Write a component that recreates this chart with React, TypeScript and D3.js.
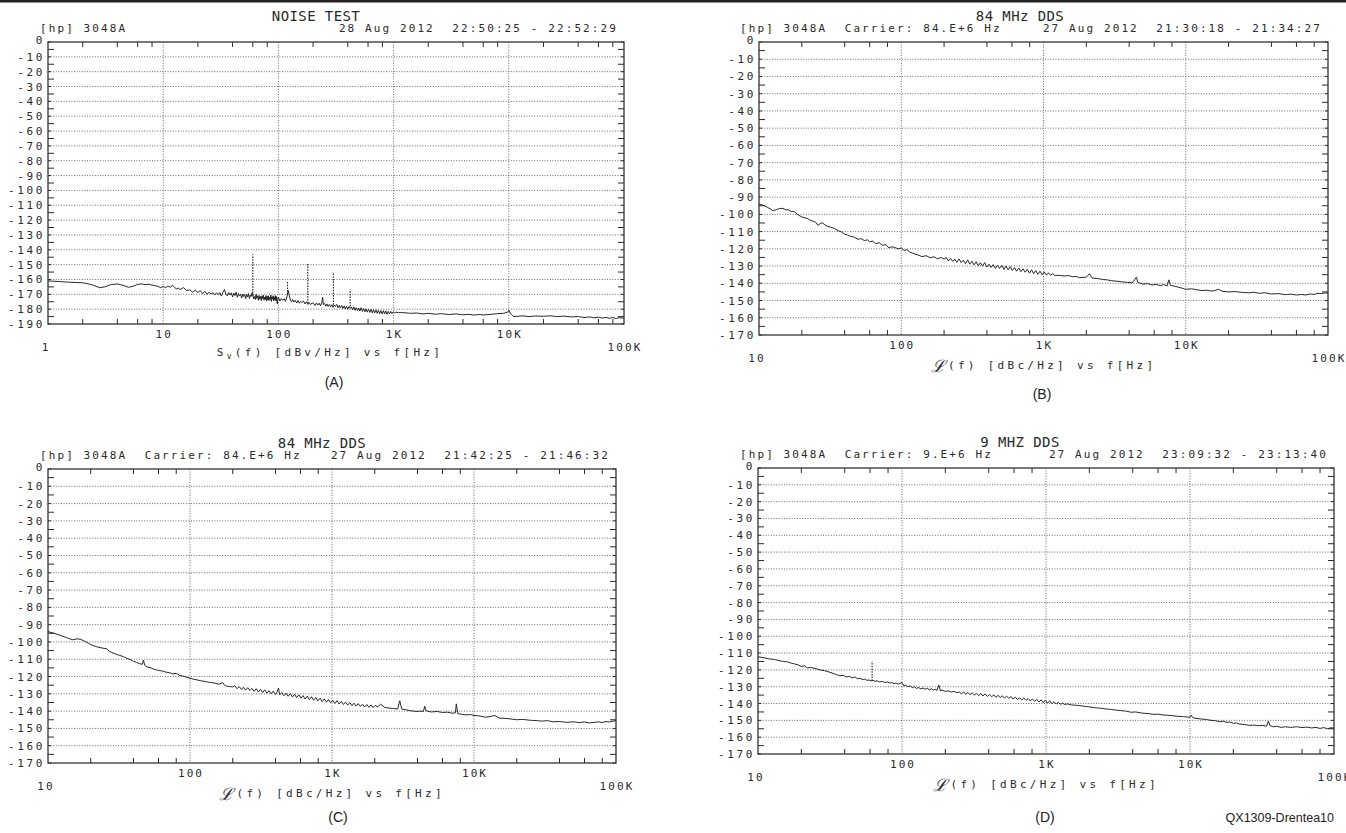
import React from 'react';
import * as d3 from 'd3';

type Pt = [number, number];
type Spur = [number, number, number];

// ---------- texts ----------
const titles = ['NOISE TEST', '84 MHz DDS', '84 MHz DDS', '9 MHZ DDS'];
const instrLeft = [
  '[hp] 3048A',
  '[hp] 3048A  Carrier: 84.E+6 Hz',
  '[hp] 3048A  Carrier: 84.E+6 Hz',
  '[hp] 3048A  Carrier: 9.E+6 Hz',
];
const instrRight = [
  '28 Aug 2012  22:50:25 - 22:52:29',
  '27 Aug 2012  21:30:18 - 21:34:27',
  '27 Aug 2012  21:42:25 - 21:46:32',
  '27 Aug 2012  23:09:32 - 23:13:40',
];
const panelLetters = ['(A)', '(B)', '(C)', '(D)'];
const startLabels = ['1', '10', '10', '10'];
const stopLabel = '100K';
const footer = 'QX1309-Drentea10';

// ---------- axes ----------
const freqStart = [1, 10, 10, 10];
const freqStop = [100000, 100000, 100000, 100000];
const dbBottom = [-190, -170, -170, -170];
const decadeValues = [10, 100, 1000, 10000];
const decadeLabels = ['10', '100', '1K', '10K'];
const minorMultipliers = [2, 4, 6, 8];

// ---------- data: panel A  Sv(f) dBV/Hz ----------
const seriesA: Pt[] = [
  [1,-161],[1.2,-161.3],[1.5,-161.8],[2,-162.2],[2.4,-163.5],[2.8,-165.5],[3.1,-165],[3.5,-163.5],[4,-163],[4.5,-164],
  [5,-165.3],[5.5,-164.5],[6,-163.3],[6.5,-163],[7,-163.5],[7.5,-163.2],[8,-163.8],[8.5,-164.2],[9,-164.6],[9.5,-165.5],
  [10,-164.8],[10.5,-165.5],[11,-164.5],[11.5,-165.2],[12,-164],[12.5,-165],[13,-166.5],[13.5,-165.8],[14,-166.8],[15,-165.5],
  [16,-167.5],[17,-167],[18,-168.5],[19,-167.2],[20,-168.8],[21,-167.5],[22,-169.5],[23,-168],[24,-170],[25,-168.5],
  [26,-169.8],[27,-168.8],[28,-170.5],[29,-169],
  [30,-170.2],[31,-168.8],[32,-171.2],[33,-168.5],[34,-166.8],[35,-169.8],[36,-171],[37,-168.8],[38,-170.5],[39,-169],
  [40,-171.8],[41,-169.2],[42,-170.8],[43,-168.5],[44,-172],[45,-169.5],[46,-171.2],[47,-170],[48,-172.5],[49,-169.8],
  [50,-171.5],[51,-170.2],[52,-173],[53,-170],[54,-171.8],[55,-169.5],[56,-172.8],[57,-170.5],[58,-171.5],[59,-169],
  [60,-170.5],[61,-173],[62,-171.5],[63,-173.5],[64,-170],[65,-172.8],[66,-171],[67,-174],[68,-170.8],[69,-173.2],
  [70,-171.5],[71,-174.2],[72,-171],[73,-173],[74,-170.5],[75,-174],[76,-171.8],[77,-173.5],[78,-170.8],[79,-174.5],
  [80,-171.2],[81,-173.8],[82,-171],[83,-174.2],[84,-172],[85,-173.5],[86,-170.5],[87,-174.8],[88,-171.8],[89,-173.2],
  [90,-171],[91,-174.5],[92,-172],[93,-173.8],[94,-170.8],[95,-174.2],[96,-171.5],[97,-175],[98,-176.5],[99,-172.5],
  [100,-171.8],[103,-174.5],[106,-172.8],[109,-174],[112,-173],[115,-174.8],[118,-172.5],[120,-169.5],[122,-167.5],[124,-170.5],
  [127,-173.8],[130,-175],[133,-173.5],[136,-175.2],[140,-174],[144,-175.8],[148,-174.2],[152,-176],[156,-174.8],[160,-175.5],
  [165,-174.5],[170,-176.5],[175,-175],[180,-176.8],[185,-175.5],[190,-177],[196,-175.8],[202,-176.2],[208,-177.5],[214,-175.8],
  [220,-177.2],[226,-176],[232,-177.8],[238,-175.5],[242,-172],[246,-177],[252,-176.2],[258,-178],[264,-176.5],[270,-178.2],
  [277,-176.8],[284,-178.5],[291,-177],[298,-178.8],[305,-177.2],[313,-178.2],[321,-176.8],[329,-179],[337,-177.5],[345,-179.2],
  [354,-177.5],[363,-179.5],[372,-177.8],[381,-179.8],[390,-178],[400,-180],[410,-178.2],[420,-179.5],[430,-178.5],[441,-180.5],
  [452,-178.5],[463,-180.8],[474,-179],[486,-181],[498,-179.2],[510,-181.2],[523,-179],[536,-181.5],[549,-179.5],[563,-181.8],
  [577,-179.8],[591,-182],[606,-180],[621,-182.2],[637,-180.2],[653,-182.5],[669,-180.5],[686,-182.5],[703,-180.5],[721,-182.8],
  [739,-180.8],[757,-183],[776,-181],[795,-183.2],[815,-181],[835,-183.2],[856,-181.2],[877,-183.5],[899,-181.5],[921,-183.2],
  [944,-181.5],[967,-183],[991,-181.8],[1015,-182.5],[1050,-182],
  [1100,-182.4],[1200,-182.3],[1400,-182.8],[1600,-182.6],[1800,-183.2],[2000,-182.8],[2300,-183.4],[2600,-183],[3000,-183.6],[3500,-183.2],
  [4000,-183.8],[4500,-183.5],[5000,-184],[5500,-183.6],[6000,-183.9],[7000,-183.5],[8000,-183],[9000,-182.8],[9800,-182],[10000,-180.8],
  [10500,-183.5],[11000,-185],[12000,-184.8],[13000,-184.5],[15000,-185],[17000,-184.6],[20000,-184.8],[23000,-184.5],[26000,-185],[30000,-184.7],
  [35000,-185.2],[40000,-185],[45000,-185.6],[50000,-185.2],[55000,-185.8],[60000,-185.4],[65000,-186],[70000,-185.5],[75000,-186.2],[80000,-185.6],
  [85000,-186.3],[90000,-185.8],[100000,-186],
];
const spursA: Spur[] = [[60,-171,-143],[120,-170,-161],[180,-176,-149],[300,-177,-155],[420,-178,-167]];

// ---------- data: panel B  L(f) dBc/Hz ----------
const seriesB: Pt[] = [
  [10,-94],[10.5,-94.5],[11,-95.2],[11.5,-96],[12,-96.8],[12.5,-97.8],[13,-97.5],[13.5,-97],[14,-96.6],[14.5,-96.5],
  [15,-96.8],[15.5,-97.5],[16,-97.2],[16.5,-98],[17,-98.5],[17.5,-98.2],[18,-99],[19,-100.5],[20,-101.5],[21,-102],
  [22,-102.5],[23,-103.5],[24,-104],[25,-104.5],[26,-106.5],[27,-105.2],[28,-105],[29,-106],[30,-106.8],[32,-107.5],
  [34,-108.2],[36,-109.5],[38,-110.2],[40,-111.5],[42,-112],[44,-112.8],[46,-113],[48,-113.8],[50,-114.5],[52,-114],
  [55,-115.2],[58,-114.8],[60,-116],[63,-115.5],[66,-117],[70,-116.5],[74,-118],[78,-117.5],[82,-119.5],[86,-118.8],
  [90,-119.2],[95,-120],[100,-119.5],[105,-121],[110,-120.5],[115,-122],[120,-122.5],[125,-123],[130,-123.5],[140,-124.5],
  [150,-124],[160,-125.2],[170,-124.6],[180,-125.8],[190,-125],
  [200,-126],[207,-125],[214,-127],[222,-125.6],[230,-127.3],[238,-126],[246,-127.8],[255,-125.9],[264,-128],[273,-126.6],
  [283,-128.6],[293,-126.4],[303,-128.9],[314,-127.2],[325,-129.3],[336,-127.5],[348,-129.8],[360,-128.1],[373,-130],[386,-128],
  [400,-130.6],[414,-128.9],[428,-130.8],[443,-129.2],[459,-131.3],[475,-129.5],[491,-131.4],[509,-129.6],[527,-131.9],[545,-130],
  [564,-132.2],[584,-130.4],[604,-132.5],[625,-130.9],[647,-133],[670,-131.1],[693,-133.3],[718,-131.6],[743,-133.6],[769,-131.9],
  [796,-134.1],[824,-132.2],[852,-134.4],[882,-132.6],[913,-134.8],[945,-133],[978,-135],[1012,-133.4],[1048,-135.3],[1085,-133.9],
  [1123,-135.4],[1162,-134.3],[1200,-135.4],
  [1300,-135.4],[1400,-135.8],[1500,-135.5],[1600,-136.2],[1700,-136],[1800,-136.8],[1900,-136.5],[2000,-136.5],[2100,-134.5],[2200,-137],
  [2400,-137.2],[2600,-137.8],[2800,-138],[3000,-138.5],[3300,-138.8],[3600,-139.2],[3900,-139.5],[4200,-139.8],[4500,-136.5],[4600,-139.5],
  [5000,-140.5],[5400,-140.2],[5800,-141],[6200,-140.6],[6600,-141.3],[7000,-140.8],[7400,-141.5],[7600,-138],[7800,-141.2],[8200,-141.5],
  [8800,-142.2],[9400,-142.8],[10000,-143.5],[11000,-143.2],[12000,-143.8],[13000,-144.2],[14000,-144],[15000,-144.5],[16000,-144.2],[17000,-143.5],
  [18000,-144.6],[20000,-145],[22000,-144.8],[25000,-145.3],[28000,-145.5],[30000,-145.2],[33000,-145.8],[36000,-145.5],[40000,-146.2],[45000,-146],
  [50000,-146.6],[55000,-146.3],[60000,-146.8],[65000,-146.5],[70000,-146.8],[75000,-146.2],[80000,-146.5],[85000,-145.8],[90000,-146],[95000,-145.6],
  [100000,-145.8],
];
const spursB: Spur[] = [];

// ---------- data: panel C ----------
const seriesC: Pt[] = [
  [10,-94],[11,-95],[12,-96],[13,-97],[14,-98],[15,-98.8],[16,-98.2],[17,-98.5],[18,-99.5],[19,-100.5],
  [20,-101.5],[22,-102.8],[24,-103.5],[26,-104],[27,-105.5],[28,-106],[30,-107],[32,-107.8],[34,-108.5],[36,-109.5],
  [38,-110.2],[40,-111.2],[42,-111.8],[44,-112.5],[46,-113],[47,-110.5],[48,-113.5],[50,-114.5],[53,-115],[56,-115.8],
  [60,-116.5],[64,-116.8],[68,-117.5],[72,-117.8],[76,-118.5],[80,-118.2],[85,-119.5],[90,-119.8],[95,-120.5],[100,-121],
  [105,-121.5],[110,-121.8],[120,-122.5],[130,-123],[140,-123.5],[150,-123.8],[160,-124.5],[170,-123.5],[175,-125],[180,-125.5],
  [190,-125.8],
  [200,-126],[207,-125.3],[214,-127],[222,-125.8],[230,-127.4],[238,-126.2],[246,-127.9],[255,-126.4],[264,-128.1],[273,-126.8],
  [283,-128.6],[293,-127],[303,-128.9],[314,-127.4],[325,-129.3],[336,-127.7],[348,-129.6],[360,-128.2],[373,-130],[386,-128.4],
  [400,-130.4],[410,-129],[420,-126.6],[428,-130.6],[443,-129.3],[459,-131.1],[475,-129.6],[491,-131.4],[509,-129.9],[527,-131.8],
  [545,-130.3],[564,-132.2],[584,-130.6],[604,-132.5],[625,-131],[647,-133],[670,-131.3],[693,-133.3],[718,-131.7],[743,-133.7],
  [769,-132.1],[796,-134.1],[824,-132.5],[852,-134.5],[882,-132.9],[913,-134.8],[945,-133.3],[978,-135.2],[1012,-133.7],[1048,-135.6],
  [1085,-134],[1123,-135.9],[1162,-134.4],[1203,-136.2],[1245,-134.8],[1289,-136.5],[1334,-135.1],[1381,-136.8],[1429,-135.4],[1479,-137.1],
  [1531,-135.7],[1585,-137.3],[1640,-136],[1698,-137.6],[1757,-136.2],[1819,-137.8],[1882,-136.4],[1948,-138],[2016,-136.7],[2100,-137.6],
  [2200,-136],[2350,-137.8],[2500,-138.2],[2700,-138.5],[2900,-138.8],[3000,-134],[3100,-138.8],[3300,-139.2],
  [3600,-139.8],[3900,-140.2],[4200,-140],[4400,-140.2],[4500,-137.2],[4600,-139.8],[5000,-140.5],[5500,-140.2],[6000,-140.8],[6500,-140.6],
  [7000,-141.2],[7400,-141],[7500,-135.8],[7700,-141.5],[8200,-141.8],[8800,-142.2],[9500,-142],[10000,-142.5],[11000,-142.8],[12000,-143.5],
  [13000,-143.2],[14000,-142.5],[15000,-144],[16500,-144.2],[18000,-144.5],[20000,-145],[22000,-144.8],[25000,-145.3],[28000,-145.5],[30000,-145.8],
  [33000,-145.5],[36000,-146.2],[40000,-146],[45000,-146.5],[50000,-146.2],[55000,-146.6],[60000,-146.3],[65000,-146.8],[70000,-146.5],[75000,-146.2],
  [80000,-146.6],[85000,-146],[90000,-146.3],[95000,-145.8],[100000,-145.5],
];
const spursC: Spur[] = [];

// ---------- data: panel D ----------
const seriesD: Pt[] = [
  [10,-112.2],[11,-112.8],[12,-113.5],[13,-113.8],[14,-114.5],[15,-115],[16,-115.2],[17,-116],[18,-116.5],[19,-117],
  [20,-118],[21,-117.5],[22,-118.8],[23,-118.5],[25,-119.2],[27,-120],[29,-120.5],[31,-121.2],[33,-122],[35,-122.8],
  [37,-123.5],[39,-123.2],[41,-124.2],[43,-123.8],[45,-124.8],[47,-124.2],[49,-125.2],[51,-125],[53,-125.8],[55,-125.5],
  [57,-126.2],[59,-126],[61,-126.5],[63,-126.2],[65,-126.8],[67,-126.5],[70,-127.2],[73,-126.8],[76,-127.5],[79,-127.2],
  [82,-127.8],[85,-127.5],[88,-128.2],[91,-127.8],[94,-128.5],[97,-128],[100,-127.5],[103,-129.5],[106,-129],[110,-130],
  [114,-129.5],[118,-130.5],[122,-130],[126,-131],[130,-130.5],[135,-131.2],[140,-130.8],[145,-131.5],[150,-131],[155,-131.8],
  [160,-131.2],[165,-132],[170,-131.5],[175,-132.2],[180,-129],[185,-132.5],[190,-132],[200,-132.8],[210,-132.5],[220,-133.2],
  [230,-132.8],[240,-133.5],
  [250,-133.2],[259,-134.3],[268,-133],[277,-134.6],[287,-133.4],[297,-134.8],[307,-133.6],[318,-135],[329,-133.9],[341,-135.3],
  [353,-134],[365,-135.5],[378,-134.3],[391,-135.8],[405,-134.6],[419,-136],[434,-134.8],[449,-136.3],[465,-135.1],[481,-136.5],
  [498,-135.4],[515,-136.8],[533,-135.6],[552,-137],[571,-135.9],[591,-137.3],[612,-136.2],[633,-137.6],[655,-136.5],[678,-137.9],
  [702,-136.7],[727,-138.1],[752,-137],[778,-138.4],[806,-137.3],[834,-138.7],[863,-137.5],[893,-139.1],[925,-137.8],[957,-139.5],
  [990,-138],[1025,-139.8],[1061,-138.4],[1098,-140.1],[1137,-138.9],[1177,-140.3],[1218,-139.3],[1260,-140.5],[1305,-139.8],[1350,-140.6],
  [1400,-140.2],[1500,-140.8],[1600,-141],[1700,-141.2],[1800,-141.5],[1900,-141.8],[2000,-142],[2200,-142.5],[2400,-142.8],[2600,-143.2],[2800,-143.5],
  [3000,-143.8],[3300,-144.2],[3600,-144.5],[3900,-145.2],[4200,-145],[4500,-145.5],[4800,-145.8],[5200,-146],[5600,-146.5],[6000,-146.3],
  [6500,-146.8],[7000,-147],[7500,-147.2],[8000,-147.5],[9000,-147.8],[10000,-148.2],[10200,-147],[10500,-148.5],[11000,-148.8],[12000,-149.2],
  [13000,-149.5],[14000,-150],[15000,-150.2],[16000,-150.8],[17000,-150.5],[18000,-151.2],[19000,-151],[20000,-151.8],[21000,-151.5],[22000,-152.2],
  [24000,-152.5],[26000,-153],[28000,-152.8],[30000,-153.2],[32000,-153],[34000,-153.5],[35000,-150.5],[36000,-153.2],[38000,-153.8],[40000,-153.5],
  [43000,-154.2],[46000,-153.8],[50000,-154.2],[55000,-153.8],[60000,-154.3],[65000,-154],[70000,-154.5],[75000,-154.2],[80000,-154.8],[85000,-154.3],
  [90000,-155],[95000,-154.4],[100000,-154.6],
];
const spursD: Spur[] = [[62,-126.5,-115]];

const allSeries = [seriesA, seriesB, seriesC, seriesD];
const allSpurs = [spursA, spursB, spursC, spursD];

// ---------- layout (positions / styles only) ----------
const frames = [
  { l: 48, r: 624, t: 42, b: 324 },
  { l: 759, r: 1328, t: 42, b: 335 },
  { l: 48, r: 616, t: 469, b: 763 },
  { l: 758, r: 1334, t: 468, b: 754 },
];
const titleX = [316, 1020, 322, 1020];
const subLeftX = [40, 740, 40, 740];
const letterPos = [
  { x: 334, y: 387 },
  { x: 1042, y: 399 },
  { x: 338, y: 822 },
  { x: 1045, y: 822 },
];

const INK = '#2a2a2a';
const MONO = '"DejaVu Sans Mono", "Liberation Mono", monospace';

function Panel({ i }: { i: number }) {
  const f = frames[i];
  const x = d3.scaleLog().domain([freqStart[i], freqStop[i]]).range([f.l, f.r]);
  const y = d3.scaleLinear().domain([dbBottom[i], 0]).range([f.b, f.t]);
  const line = d3.line<Pt>().x((d) => x(d[0])).y((d) => y(d[1]));

  const majorY = d3.range(0, dbBottom[i] - 1, -10);
  const minorY = d3.range(-5, dbBottom[i], -10);
  const decades: number[] = [];
  for (let d = freqStart[i]; d < freqStop[i]; d *= 10) decades.push(d);
  const minorX: number[] = [];
  decades.forEach((d) => minorMultipliers.forEach((m) => minorX.push(d * m)));
  const gridX = decadeValues.filter((v) => v > freqStart[i] && v < freqStop[i]);

  const cx = (f.l + f.r) / 2;
  const isA = i === 0;

  return (
    <g>
      {/* header */}
      <text x={titleX[i]} y={f.t - 21} textAnchor="middle" fontFamily={MONO} fontSize={14} letterSpacing={0.4} fill={INK}>
        {titles[i]}
      </text>
      <text x={subLeftX[i]} y={f.t - 10} fontFamily={MONO} fontSize={11} letterSpacing={2.1} fill={INK} xmlSpace="preserve" style={{ whiteSpace: 'pre' }}>
        {instrLeft[i]}
      </text>
      <text x={f.r - 6} y={f.t - 10} textAnchor="end" fontFamily={MONO} fontSize={11} letterSpacing={2.1} fill={INK} xmlSpace="preserve" style={{ whiteSpace: 'pre' }}>
        {instrRight[i]}
      </text>

      {/* grid */}
      {majorY.filter((v) => v !== 0 && v !== dbBottom[i]).map((v) => (
        <line key={'gy' + v} x1={f.l} x2={f.r} y1={y(v)} y2={y(v)} stroke="#444" strokeWidth={0.8} strokeDasharray="1,1.6" />
      ))}
      {gridX.map((v) => (
        <line key={'gx' + v} x1={x(v)} x2={x(v)} y1={f.t} y2={f.b} stroke="#444" strokeWidth={0.8} strokeDasharray="1,1.6" />
      ))}
      {/* minor ticks */}
      {minorY.map((v) => (
        <g key={'my' + v}>
          <line x1={f.l} x2={f.l + 6} y1={y(v)} y2={y(v)} stroke={INK} strokeWidth={1} />
          <line x1={f.r - 6} x2={f.r} y1={y(v)} y2={y(v)} stroke={INK} strokeWidth={1} />
        </g>
      ))}
      {majorY.map((v) => (
        <g key={'My' + v}>
          <line x1={f.l} x2={f.l + 3} y1={y(v)} y2={y(v)} stroke={INK} strokeWidth={1} />
          <line x1={f.r - 3} x2={f.r} y1={y(v)} y2={y(v)} stroke={INK} strokeWidth={1} />
        </g>
      ))}
      {minorX.filter((v) => v < freqStop[i]).map((v) => (
        <g key={'mx' + v}>
          <line x1={x(v)} x2={x(v)} y1={f.t} y2={f.t + 5} stroke={INK} strokeWidth={1} />
          <line x1={x(v)} x2={x(v)} y1={f.b - 5} y2={f.b} stroke={INK} strokeWidth={1} />
        </g>
      ))}

      {/* frame */}
      <rect x={f.l} y={f.t} width={f.r - f.l} height={f.b - f.t} fill="none" stroke="#333" strokeWidth={1.3} />

      {/* y labels */}
      {majorY.map((v) => (
        <text key={'ly' + v} x={f.l - 3} y={y(v) + 4 - (v === 0 ? 2 : 0)} textAnchor="end" fontFamily={MONO} fontSize={11} letterSpacing={2.6} fill={INK}>
          {v === 0 ? '0' : '-' + Math.abs(v)}
        </text>
      ))}
      {/* x labels */}
      {gridX.map((v) => (
        <text key={'lx' + v} x={x(v) + 1} y={f.b + 14} textAnchor="middle" fontFamily={MONO} fontSize={11} letterSpacing={2.1} fill={INK}>
          {decadeLabels[decadeValues.indexOf(v)]}
        </text>
      ))}
      <text x={f.l - 2} y={f.b + 27} textAnchor="middle" fontFamily={MONO} fontSize={11} letterSpacing={2.1} fill={INK}>
        {startLabels[i]}
      </text>
      <text x={f.r + 1} y={f.b + 27} textAnchor="middle" fontFamily={MONO} fontSize={11} letterSpacing={2.1} fill={INK}>
        {stopLabel}
      </text>
      {/* axis title */}
      {isA ? (
        <text x={cx - 6} y={f.b + 32} textAnchor="middle" fontFamily={MONO} fontSize={11} letterSpacing={3.3} fill={INK} xmlSpace="preserve" style={{ whiteSpace: 'pre' }}>
          <tspan>S</tspan>
          <tspan fontSize={8} dy={3}>v</tspan>
          <tspan dy={-3}>(f) [dBv/Hz] vs f[Hz]</tspan>
        </text>
      ) : (
        <text x={cx} y={f.b + 34} textAnchor="middle" fontFamily={MONO} fontSize={11} letterSpacing={3.3} fill={INK} xmlSpace="preserve" style={{ whiteSpace: 'pre' }}>
          <tspan fontFamily='"DejaVu Serif", serif' fontStyle="italic" fontSize={17} dy={3}>ℒ</tspan>
          <tspan dy={-3}>(f) [dBc/Hz] vs f[Hz]</tspan>
        </text>
      )}

      {/* data */}
      <path d={line(allSeries[i]) || ''} fill="none" stroke="#1e1e1e" strokeWidth={0.95} strokeLinejoin="round" />
      {allSpurs[i].map((s, k) => (
        <line key={'sp' + k} x1={x(s[0])} x2={x(s[0])} y1={y(s[1])} y2={y(s[2])} stroke="#1e1e1e" strokeWidth={1.1} strokeDasharray="1.5,1.2" />
      ))}

      {/* panel letter */}
      <text x={letterPos[i].x} y={letterPos[i].y} textAnchor="middle" fontFamily='"Liberation Sans", Arial, sans-serif' fontSize={14} fill="#222">
        {panelLetters[i]}
      </text>
    </g>
  );
}

export default function App() {
  return (
    <svg width={1346} height={833} style={{ position: 'absolute', left: 0, top: 0, background: '#fff' }}>
      <rect x={0} y={0} width={1346} height={833} fill="#fff" />
      <rect x={0} y={0} width={1346} height={2.5} fill="#222" />
      {[0, 1, 2, 3].map((i) => (
        <Panel key={i} i={i} />
      ))}
      <text x={1334} y={822} textAnchor="end" fontFamily='"Liberation Sans", Arial, sans-serif' fontSize={12.5} fill="#222">
        {footer}
      </text>
    </svg>
  );
}
